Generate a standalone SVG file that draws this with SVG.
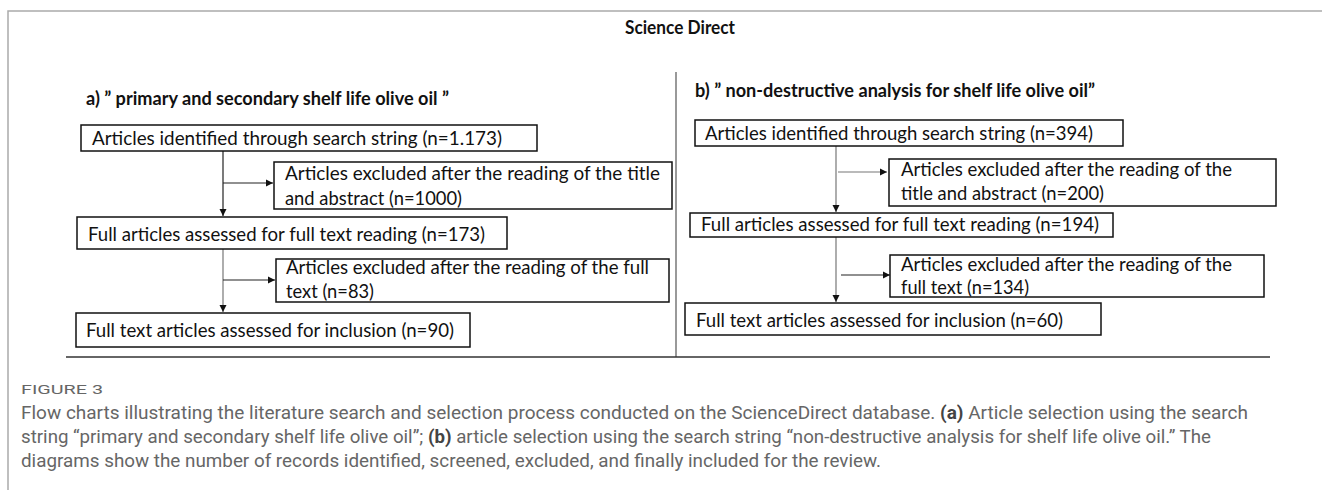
<svg xmlns="http://www.w3.org/2000/svg" width="1322" height="490" viewBox="0 0 1322 490">
<style>
.bx{fill:#fff;stroke:#111;stroke-width:1.5}
.t{font-family:Lato,"Open Sans",sans-serif;font-size:19px;fill:#111}
.h{font-family:Lato,"Open Sans",sans-serif;font-size:18px;font-weight:bold;fill:#111}
.ln{stroke:#222;stroke-width:1.2;fill:none}
.lg{stroke:#777;stroke-width:1.2;fill:none}
.cap{font-family:Roboto,"Liberation Sans",sans-serif;fill:#666}
</style>
<defs>
<marker id="ah" markerWidth="8" markerHeight="8" refX="7" refY="4" orient="auto" markerUnits="userSpaceOnUse">
<path d="M0,0.5 L7,4 L0,7.5 Z" fill="#111"/>
</marker>
</defs>
<rect width="1322" height="490" fill="#fff"/>
<path d="M8,490 V11 H1322" fill="none" stroke="#aaa" stroke-width="1.5"/>
<text class="h" x="680" y="34" text-anchor="middle" textLength="110" lengthAdjust="spacingAndGlyphs">Science Direct</text>
<line x1="676" y1="72" x2="676" y2="357" stroke="#555" stroke-width="1.2"/>
<line x1="66" y1="357" x2="1270" y2="357" stroke="#333" stroke-width="1.5"/>
<text class="h" x="86" y="105" textLength="363" lengthAdjust="spacingAndGlyphs">a) ” primary and secondary shelf life olive oil ”</text>
<text class="h" x="695" y="97" textLength="400" lengthAdjust="spacingAndGlyphs">b) ” non-destructive analysis for shelf life olive oil”</text>
<g id="connectors">
<line class="ln" x1="223" y1="151" x2="223" y2="216" marker-end="url(#ah)"/>
<line class="ln" x1="223" y1="183" x2="273" y2="183" marker-end="url(#ah)"/>
<line class="lg" x1="223" y1="249" x2="223" y2="312" marker-end="url(#ah)"/>
<line class="ln" x1="223" y1="280" x2="275" y2="280" marker-end="url(#ah)"/>
<line class="lg" x1="836" y1="146" x2="836" y2="212" marker-end="url(#ah)"/>
<line class="lg" x1="838" y1="172" x2="887" y2="172" marker-end="url(#ah)"/>
<line class="lg" x1="836" y1="237" x2="836" y2="302" marker-end="url(#ah)"/>
<line class="ln" x1="841" y1="275" x2="890" y2="275" marker-end="url(#ah)"/>
</g>
<g id="a1"><rect class="bx" x="81" y="125" width="456" height="26"/><text class="t" x="92" y="145" textLength="410" lengthAdjust="spacingAndGlyphs">Articles identified through search string (n=1.173)</text></g>
<g id="a2"><rect class="bx" x="274" y="162" width="398" height="47"/><text class="t" x="285" y="180" textLength="375" lengthAdjust="spacingAndGlyphs">Articles excluded after the reading of the title</text><text class="t" x="285" y="205" textLength="177" lengthAdjust="spacingAndGlyphs">and abstract (n=1000)</text></g>
<g id="a3"><rect class="bx" x="77" y="217" width="430" height="32"/><text class="t" x="88" y="241" textLength="397" lengthAdjust="spacingAndGlyphs">Full articles assessed for full text reading (n=173)</text></g>
<g id="a4"><rect class="bx" x="276" y="259" width="393" height="43"/><text class="t" x="286" y="274" textLength="363" lengthAdjust="spacingAndGlyphs">Articles excluded after the reading of the full</text><text class="t" x="286" y="298" textLength="88" lengthAdjust="spacingAndGlyphs">text (n=83)</text></g>
<g id="a5"><rect class="bx" x="76" y="313" width="394" height="34"/><text class="t" x="86" y="337" textLength="368" lengthAdjust="spacingAndGlyphs">Full text articles assessed for inclusion (n=90)</text></g>
<g id="b1"><rect class="bx" x="695" y="120" width="428" height="26"/><text class="t" x="705" y="140" textLength="388" lengthAdjust="spacingAndGlyphs">Articles identified through search string (n=394)</text></g>
<g id="b2"><rect class="bx" x="889" y="159" width="387" height="47"/><text class="t" x="901" y="176" textLength="331" lengthAdjust="spacingAndGlyphs">Articles excluded after the reading of the</text><text class="t" x="901" y="200" textLength="203" lengthAdjust="spacingAndGlyphs">title and abstract (n=200)</text></g>
<g id="b3"><rect class="bx" x="690" y="213" width="423" height="24"/><text class="t" x="701" y="231" textLength="398" lengthAdjust="spacingAndGlyphs">Full articles assessed for full text reading (n=194)</text></g>
<g id="b4"><rect class="bx" x="890" y="255" width="374" height="42"/><text class="t" x="901" y="271" textLength="331" lengthAdjust="spacingAndGlyphs">Articles excluded after the reading of the</text><text class="t" x="901" y="294" textLength="128" lengthAdjust="spacingAndGlyphs">full text (n=134)</text></g>
<g id="b5"><rect class="bx" x="685" y="303" width="416" height="32"/><text class="t" x="696" y="327" textLength="367" lengthAdjust="spacingAndGlyphs">Full text articles assessed for inclusion (n=60)</text></g>
<text class="cap" x="21" y="394" font-size="13" textLength="82" lengthAdjust="spacingAndGlyphs">FIGURE 3</text>
<text class="cap" x="21" y="419" font-size="17.5" textLength="1227" lengthAdjust="spacingAndGlyphs">Flow charts illustrating the literature search and selection process conducted on the ScienceDirect database. <tspan font-weight="bold" fill="#444">(a)</tspan> Article selection using the search</text>
<text class="cap" x="21" y="443" font-size="17.5" textLength="1190" lengthAdjust="spacingAndGlyphs">string “primary and secondary shelf life olive oil”; <tspan font-weight="bold" fill="#444">(b)</tspan> article selection using the search string “non-destructive analysis for shelf life olive oil.” The</text>
<text class="cap" x="21" y="467" font-size="17.5" textLength="860" lengthAdjust="spacingAndGlyphs">diagrams show the number of records identified, screened, excluded, and finally included for the review.</text>
</svg>
